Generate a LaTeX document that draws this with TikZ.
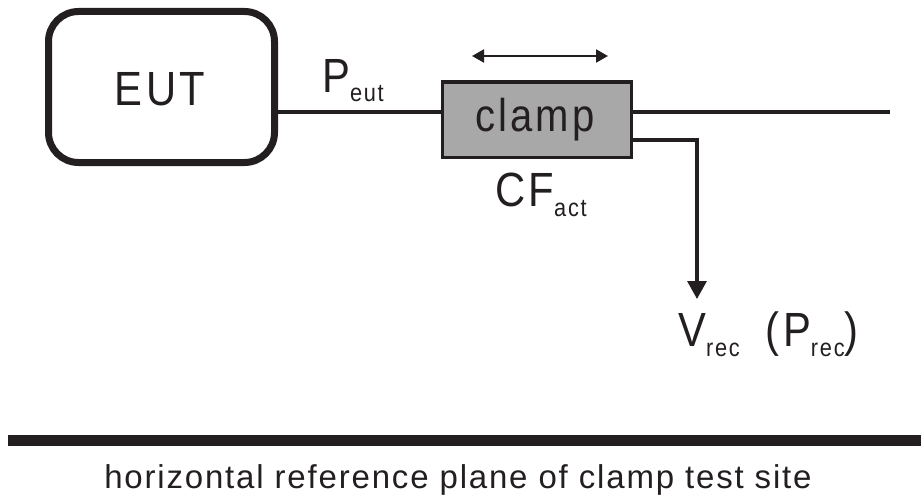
\documentclass[tikz,border=0pt]{standalone}
\usepackage{graphicx}
\usepackage{fontspec}
\setmainfont{Liberation Sans}
\newfontfamily\labfont{Liberation Sans}[LetterSpace=8]
\newfontfamily\planefont{Liberation Sans}[LetterSpace=5.5]
\usetikzlibrary{arrows.meta}
\definecolor{ink}{RGB}{35,31,32}
\definecolor{clampgray}{RGB}{168,168,168}
\newcommand\fs[1]{\fontsize{#1}{#1}\selectfont}
\newcommand\subtxt[2]{\raisebox{-#1pt}{\fs{25}#2}}
\newcommand\nar[1]{\scalebox{0.87}[1]{#1}}
\begin{document}
\begin{tikzpicture}[x=1pt,y=-1pt,
  lbl/.style={inner sep=0pt, anchor=base west, font=\labfont\fs{48}, text=ink},
  wire/.style={draw=ink, line width=3.4pt},
  box/.style={draw=ink, inner sep=0pt},
  tipbig/.style={-{Triangle[width=19pt,length=18pt]}},
]
\useasboundingbox (0,0) rectangle (921,503);

% boxes
\node[box, line width=7pt, rounded corners=30pt, minimum width=226pt, minimum height=151pt] (eut) at (161.5,87) {};
\node[box, line width=3pt, fill=clampgray, minimum width=189pt, minimum height=75pt] (clamp) at (536.5,119.5) {};

% texts
\node[lbl, anchor=base] (euttxt) at (160,105) {\nar{EUT}};
\node[lbl, anchor=base, font=\labfont\fs{46}] (clamptxt) at (535,131.7) {\nar{clamp}};
\node[lbl] (peut) at (322,92.7) {\nar{P\subtxt{9}{eut}}};
\node[lbl] (cf) at (495,206.7) {\nar{CF\subtxt{10}{act}}};
\node[lbl] (vrec) at (678,346) {\nar{V\subtxt{10}{rec}\hspace{30pt}(P\subtxt{10}{rec})}};

% coordinates
\coordinate (w) at (0,112);
\coordinate (rend) at (890,112);
\coordinate (tap) at (0,140);
\coordinate (bend) at (697,140);
\coordinate (rec) at (697,299);
\coordinate (mvL) at (472,56);
\coordinate (mvR) at (608,56);

% wires
\draw[wire] (eut.east |- w) -- (clamp.west |- w);
\draw[wire] (clamp.east |- w) -- (rend);
\draw[wire, line width=3.2pt, tipbig] (clamp.east |- tap) -- (bend) -- (rec);
\draw[draw=ink, line width=2pt, {Triangle[width=13pt,length=12pt]}-{Triangle[width=13pt,length=12pt]}] (mvL) -- (mvR);

% reference plane
\node[fill=ink, inner sep=0pt, minimum width=913pt, minimum height=11pt, anchor=north west] (plane) at (8,435) {};
\node[inner sep=0pt, anchor=base, font=\planefont\fs{33}, text=ink] (planelbl) at (458,488) {horizontal reference plane of clamp test site};
\end{tikzpicture}
\end{document}
